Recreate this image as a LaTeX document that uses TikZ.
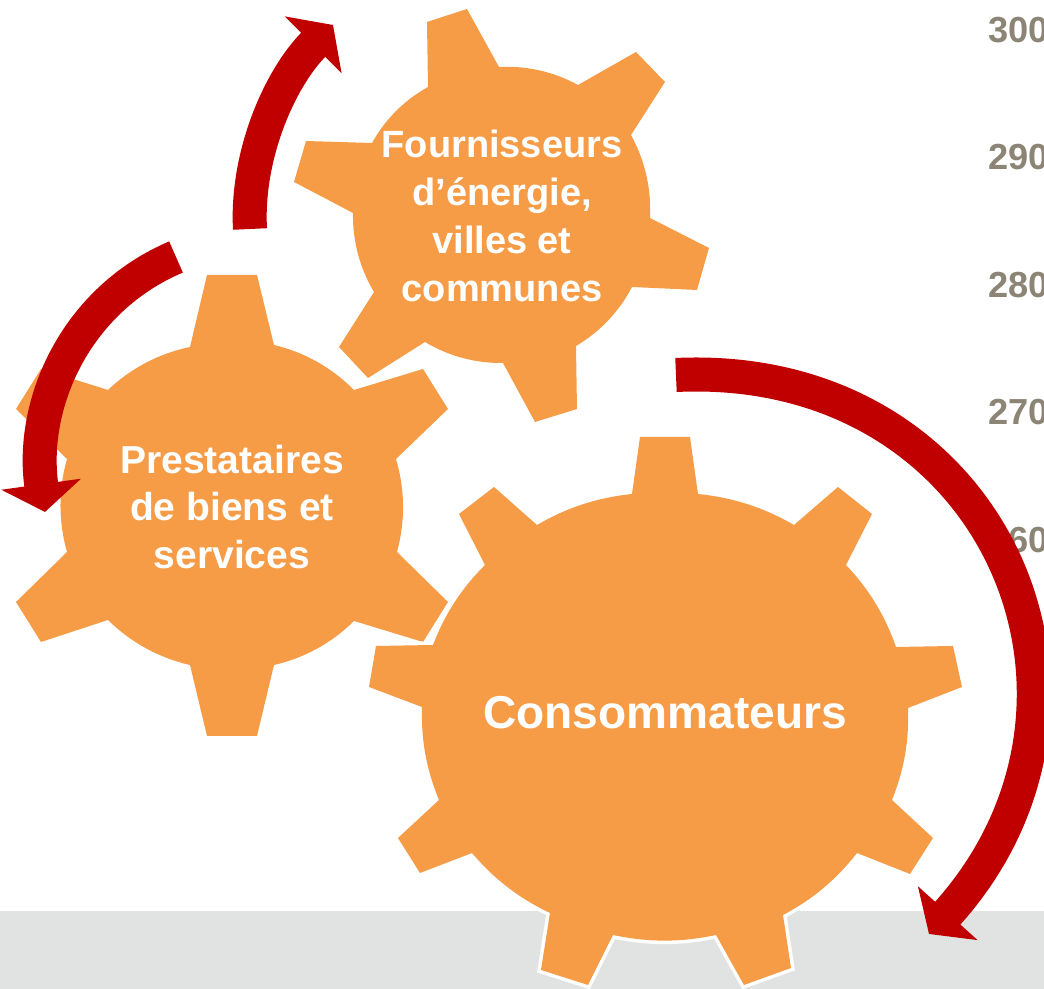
\documentclass[tikz,border=0pt]{standalone}
\usepackage{xcolor}
\usepackage{fontspec}
\setmainfont{Liberation Sans}
\usepackage{tikz}
\usetikzlibrary{arrows.meta}
\definecolor{gearorange}{HTML}{F69C47}
\definecolor{arrowred}{HTML}{C00000}
\definecolor{bandgrey}{HTML}{E1E3E2}
\definecolor{axisgrey}{HTML}{8C8474}
\tikzstyle{gear} = [fill = gearorange, line join = round]
\tikzstyle{root} = [bend left = 16, looseness = 0.87]
\tikzstyle{rootbig} = [bend left = 12, looseness = 0.9]
\tikzstyle{cycle arrow} = [draw = arrowred, line width = 0.34cm, -{Triangle[length = 2.8mm, width = 7.9mm]}]
\tikzstyle{gearlabel} = [text = white, font = \bfseries\fontsize{10.8}{13.6}\selectfont, align = center, inner sep = 0]
\tikzstyle{axislabel} = [text = axisgrey, font = \bfseries\fontsize{10.3}{12}\selectfont, anchor = west, inner sep = 0]

\begin{document}
\begin{tikzpicture}[x = 0.01cm, y = -0.01cm]
\useasboundingbox (0, 0) rectangle (1044, 989);
\fill [bandgrey] (0, 911) rectangle (1044, 989);
\node [axislabel] (tick300) at (988, 30) {300};
\node [axislabel] (tick290) at (988, 157) {290};
\node [axislabel] (tick280) at (988, 285) {280};
\node [axislabel] (tick270) at (988, 412) {270};
\node [axislabel] (tick260) at (988, 540) {260};
% services gear
\fill [gear] (190, 347) -- (207, 275) -- (257, 275) -- (274, 345) to [root] (354, 390) -- (423, 369) -- (448, 409) -- (396, 459) to [root] (397, 552) -- (448, 602) -- (423, 642) -- (354, 621) to [root] (274, 665) -- (257, 736) -- (207, 736) -- (190, 665) to [root] (108, 620) -- (41, 642) -- (16, 602) -- (67, 552) to [root] (67, 459) -- (16, 409) -- (41, 369) -- (108, 390) to [root] cycle;
% energy gear
\fill [gear] (428, 87) -- (427, 22) -- (467, 9) -- (499, 67) to [root] (578, 85) -- (636, 52) -- (665, 82) -- (631, 135) to [root] (650, 218) -- (709, 248) -- (697, 290) -- (632, 287) to [root] (576, 346) -- (577, 409) -- (535, 422) -- (503, 363) to [root] (425, 342) -- (368, 378) -- (339, 347) -- (374, 292) to [root] (353, 213) -- (294, 182) -- (306, 141) -- (372, 143) to [root] cycle;
% consumer gear, white edge over the band
\fill [gear, preaction = {draw = white, line width = 0.07cm}] (632, 494) -- (640, 437) -- (690, 437) -- (698, 494) to [rootbig] (794, 525) -- (838, 487) -- (872, 514) -- (846, 565) to [rootbig] (896, 647) -- (953, 646) -- (962, 687) -- (908, 708) to [rootbig] (892, 800) -- (933, 838) -- (910, 874) -- (857, 853) to [rootbig] (783, 915) -- (791, 968) -- (744, 985) -- (716, 935) to [rootbig] (613, 935) -- (588, 985) -- (541, 970) -- (550, 913) to [rootbig] (472, 853) -- (420, 873) -- (398, 838) -- (439, 800) to [rootbig] (422, 707) -- (369, 687) -- (376, 646) -- (433, 645) to [rootbig] (485, 565) -- (459, 514) -- (494, 487) -- (537, 525) to [rootbig] cycle;
\coordinate (toEnergyA) at (250, 229);
\coordinate (toEnergyB) at (333, 25);
\coordinate (toServicesA) at (176, 257);
\coordinate (toServicesB) at (45, 512);
\coordinate (toConsumerA) at (676, 375);
\coordinate (toConsumerB) at (929, 934);
\draw [cycle arrow] (toEnergyA) .. controls (246, 155) and (280, 78) .. (toEnergyB);
\draw [cycle arrow] (toServicesA) .. controls (75, 300) and (30, 404) .. (toServicesB);
\draw [cycle arrow] (toConsumerA) .. controls (995, 360) and (1140, 700) .. (toConsumerB);
\node [gearlabel] (energy) at (502, 216) {Fournisseurs\\d’énergie,\\villes et\\communes};
\node [gearlabel, font = \bfseries\fontsize{11.1}{13.6}\selectfont] (services) at (232, 507) {Prestataires\\de biens et\\services};
\node [gearlabel, font = \bfseries\fontsize{13.1}{16}\selectfont] (consumer) at (665, 713) {Consommateurs};
\end{tikzpicture}
\end{document}
